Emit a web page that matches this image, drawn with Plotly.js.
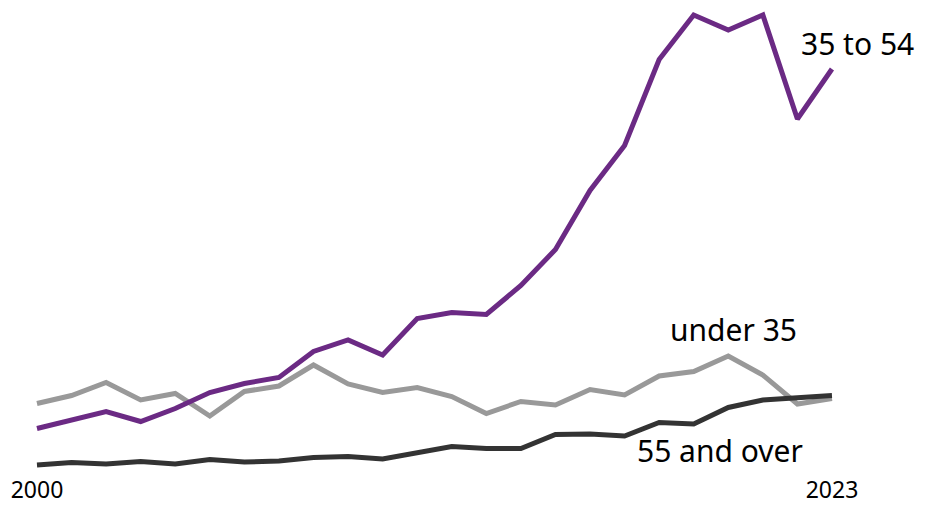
<!DOCTYPE html>
<html>
<head>
<meta charset="utf-8">
<script src="https://cdn.plot.ly/plotly-3.0.1.min.js"></script>
<style>
  html, body { margin: 0; padding: 0; background: #ffffff; }
  #chart { width: 931px; height: 506px; }
</style>
</head>
<body>
<div id="chart"></div>
<script>
// Years 2000 through 2023
const years = [];
for (let y = 2000; y <= 2023; y++) years.push(y);

const age35to54 = [12.3, 14.0, 15.7, 13.7, 16.3, 19.5, 21.3, 22.5, 27.7, 30.0, 27.0, 34.3,
                   35.5, 35.1, 40.9, 48.1, 59.9, 68.9, 86.1, 95.0, 92.0, 95.0, 74.2, 84.2];
const under35   = [17.3, 18.9, 21.5, 18.0, 19.3, 14.8, 19.7, 20.8, 25.0, 21.2, 19.5, 20.5,
                   18.7, 15.3, 17.7, 17.0, 20.1, 19.0, 22.8, 23.7, 26.8, 23.0, 17.2, 18.3];
const age55plus = [5.0, 5.5, 5.2, 5.7, 5.2, 6.1, 5.6, 5.8, 6.5, 6.7, 6.2, 7.5,
                   8.7, 8.3, 8.3, 11.1, 11.2, 10.8, 13.5, 13.2, 16.5, 18.0, 18.5, 18.9];

const tickYears = [2000, 2023];
const tickLabels = ['2000', '2023'];

const seriesNames = ['under 35', '35 to 54', '55 and over'];

const FONT = 'Noto Sans, Open Sans, sans-serif';

function line(y, color, name) {
  return {
    x: years, y: y, type: 'scatter', mode: 'lines', name: name,
    line: { color: color, width: 5, shape: 'linear' },
    hoverinfo: 'skip'
  };
}

const data = [
  line(under35, '#999999', seriesNames[0]),
  line(age55plus, '#333333', seriesNames[2]),
  line(age35to54, '#6b2a84', seriesNames[1])
];

const labelFont = { family: FONT, size: 30, color: '#000000' };

const layout = {
  width: 931, height: 506,
  margin: { l: 0, r: 0, t: 0, b: 32, pad: 0 },
  paper_bgcolor: '#ffffff', plot_bgcolor: '#ffffff',
  showlegend: false,
  xaxis: {
    range: [1998.93, 2025.865],
    tickvals: tickYears, ticktext: tickLabels,
    showgrid: false, zeroline: false, showline: false, ticks: '',
    tickfont: { family: FONT, size: 23, color: '#000000' },
    fixedrange: true
  },
  yaxis: {
    range: [3.2, 98],
    showgrid: false, zeroline: false, showline: false,
    showticklabels: false, ticks: '', fixedrange: true
  },
  annotations: [
    { x: 2023, y: age35to54[23], xref: 'x', yref: 'y', text: seriesNames[1],
      showarrow: false, xanchor: 'center', yanchor: 'middle', xshift: 26, yshift: 26,
      font: labelFont },
    { x: 2020, y: under35[20], xref: 'x', yref: 'y', text: seriesNames[0],
      showarrow: false, xanchor: 'center', yanchor: 'middle', xshift: 5, yshift: 27,
      font: labelFont },
    { x: 2020, y: age55plus[20], xref: 'x', yref: 'y', text: seriesNames[2],
      showarrow: false, xanchor: 'center', yanchor: 'middle', xshift: -8, yshift: -43,
      font: labelFont }
  ]
};

Plotly.newPlot('chart', data, layout, { displayModeBar: false, staticPlot: true });
</script>
</body>
</html>
